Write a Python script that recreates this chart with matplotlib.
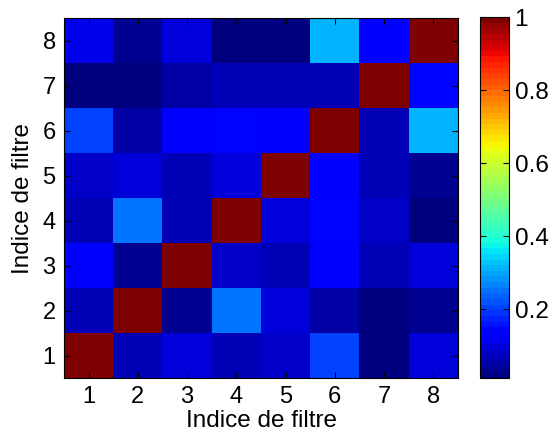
import matplotlib.pyplot as plt
import numpy as np

plt.rcParams['font.family'] = ['Liberation Sans', 'DejaVu Sans']

# filter indices
filtres = [1, 2, 3, 4, 5, 6, 7, 8]

# correlation between filters, row i = filter i (bottom to top)
ligne1 = [1.00, 0.07, 0.10, 0.07, 0.08, 0.21, 0.025, 0.10]
ligne2 = [0.07, 1.00, 0.035, 0.25, 0.095, 0.055, 0.025, 0.04]
ligne3 = [0.12, 0.03, 1.00, 0.075, 0.065, 0.125, 0.065, 0.09]
ligne4 = [0.07, 0.25, 0.07, 1.00, 0.095, 0.14, 0.075, 0.025]
ligne5 = [0.075, 0.095, 0.065, 0.09, 1.00, 0.125, 0.065, 0.04]
ligne6 = [0.21, 0.05, 0.125, 0.14, 0.13, 1.00, 0.07, 0.32]
ligne7 = [0.011, 0.012, 0.05, 0.07, 0.06, 0.07, 1.00, 0.15]
ligne8 = [0.105, 0.03, 0.09, 0.011, 0.025, 0.32, 0.13, 1.00]

mat = np.array([ligne1, ligne2, ligne3, ligne4, ligne5, ligne6, ligne7, ligne8])

fig = plt.figure(figsize=(5.51, 4.38), dpi=100)
ax = fig.add_axes([64/551, 60/438, 394/551, 360/438])
cax = fig.add_axes([480/551, 60/438, 29/551, 361/438])

im = ax.imshow(mat, cmap=plt.get_cmap('jet', 64), origin='lower', aspect='auto',
               interpolation='nearest',
               extent=[0.5, len(filtres) + 0.5, 0.5, len(filtres) + 0.5])

ax.set_xticks(filtres)
ax.set_yticks(filtres)
ax.tick_params(direction='in', top=True, right=True, labelsize=17, length=4, pad=6)
ax.set_xlabel('Indice de filtre', fontsize=17.5, labelpad=1)
ax.set_ylabel('Indice de filtre', fontsize=17.5, labelpad=6)

cb = fig.colorbar(im, cax=cax)
cb.set_ticks([0.2, 0.4, 0.6, 0.8, 1])
cb.set_ticklabels(['0.2', '0.4', '0.6', '0.8', '1'])
cax.tick_params(direction='in', left=True, right=True, labelsize=17.5, length=4, pad=4)

fig.savefig('out.png', dpi=100)
